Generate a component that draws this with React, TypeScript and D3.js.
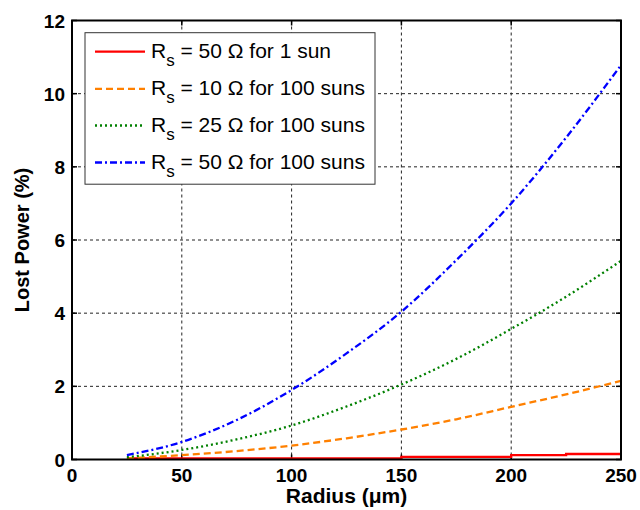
import React from "react";
import * as d3 from "d3";

const radius = [25, 50, 75, 100, 125, 150, 175, 200, 225, 250];
const rs50sun1 = [0.03, 0.03, 0.03, 0.03, 0.03, 0.07, 0.07, 0.12, 0.15, 0.15];
const rs10sun100 = [0.03, 0.12, 0.23, 0.38, 0.58, 0.82, 1.1, 1.44, 1.78, 2.15];
const rs25sun100 = [0.06, 0.26, 0.55, 0.93, 1.45, 2.05, 2.75, 3.57, 4.45, 5.43];
const rs50sun100 = [0.12, 0.48, 1.08, 1.9, 2.9, 4.04, 5.45, 7.0, 8.8, 10.78];

const xTicks = [0, 50, 100, 150, 200, 250];
const yTicks = [0, 2, 4, 6, 8, 10, 12];

const seriesNames = ["50 Ω for 1 sun", "10 Ω for 100 suns", "25 Ω for 100 suns", "50 Ω for 100 suns"];
const seriesValues = [rs50sun1, rs10sun100, rs25sun100, rs50sun100];
const seriesColors = ["#ff0000", "#ff8000", "#008000", "#0000ff"];
const seriesDash = ["none", "7,4", "2,3", "7,3,2,3"];

const W = 640;
const H = 510;
const L = 72;
const R = 621;
const T = 20.5;
const B = 459.5;

export default function App() {
  const x = d3.scaleLinear().domain([0, 250]).range([L, R]);
  const y = d3.scaleLinear().domain([0, 12]).range([B, T]);
  const font = "Arial, 'Liberation Sans', Helvetica, sans-serif";

  const lineFor = (vals: number[], i: number) => {
    const g = d3
      .line<number>()
      .x((_, k) => x(radius[k]))
      .y((v) => y(v))
      .curve(i === 0 ? d3.curveStepAfter : d3.curveMonotoneX);
    return g(vals) || "";
  };

  const legX = 85;
  const legY = 32.7;
  const legW = 290;
  const legH = 151.5;
  const rowY = [51.7, 88.8, 125.5, 162.5];

  return (
    <svg
      width={W}
      height={H}
      style={{ position: "absolute", left: 0, top: 0, background: "#fff" }}
      fontFamily={font}
    >
      <rect x={0} y={0} width={W} height={H} fill="#fff" />
      <defs>
        <clipPath id="plotclip">
          <rect x={L} y={T} width={R - L} height={B - T} />
        </clipPath>
      </defs>
      {/* grid */}
      {xTicks.slice(1, -1).map((t) => (
        <line key={"gx" + t} x1={x(t)} x2={x(t)} y1={T} y2={B} stroke="#222" strokeWidth={1} strokeDasharray="3,3" />
      ))}
      {yTicks.slice(1, -1).map((t) => (
        <line key={"gy" + t} x1={L} x2={R} y1={y(t)} y2={y(t)} stroke="#222" strokeWidth={1} strokeDasharray="3,3" />
      ))}
      {/* ticks inward */}
      {xTicks.map((t) => (
        <g key={"tx" + t}>
          <line x1={x(t)} x2={x(t)} y1={B} y2={B - 5} stroke="#000" strokeWidth={1.5} />
          <line x1={x(t)} x2={x(t)} y1={T} y2={T + 5} stroke="#000" strokeWidth={1.5} />
          <text x={x(t)} y={481.5} textAnchor="middle" fontSize={19} fontWeight="bold" fill="#000">
            {t}
          </text>
        </g>
      ))}
      {yTicks.map((t) => (
        <g key={"ty" + t}>
          <line x1={L} x2={L + 5} y1={y(t)} y2={y(t)} stroke="#000" strokeWidth={1.5} />
          <line x1={R} x2={R - 5} y1={y(t)} y2={y(t)} stroke="#000" strokeWidth={1.5} />
          <text x={65} y={y(t) + 7} textAnchor="end" fontSize={19} fontWeight="bold" fill="#000">
            {t}
          </text>
        </g>
      ))}
      {/* series */}
      <g clipPath="url(#plotclip)">
        {seriesValues.map((vals, i) => (
          <path
            key={"s" + i}
            d={lineFor(vals, i)}
            fill="none"
            stroke={seriesColors[i]}
            strokeWidth={2.3}
            strokeDasharray={seriesDash[i]}
          />
        ))}
      </g>
      {/* axes box */}
      <rect x={L} y={T} width={R - L} height={B - T} fill="none" stroke="#000" strokeWidth={2} />
      {/* legend */}
      <rect x={legX} y={legY} width={legW} height={legH} fill="#fff" stroke="#333" strokeWidth={1} />
      {seriesNames.map((name, i) => (
        <g key={"leg" + i}>
          <line
            x1={95}
            x2={145}
            y1={rowY[i]}
            y2={rowY[i]}
            stroke={seriesColors[i]}
            strokeWidth={2.3}
            strokeDasharray={seriesDash[i]}
          />
          <text x={151} y={rowY[i] + 6} fontSize={21} fill="#000">
            R
            <tspan fontSize={17} dy={8}>s</tspan>
            <tspan dy={-8}>{" = " + name}</tspan>
          </text>
        </g>
      ))}
      {/* axis labels */}
      <text x={(L + R) / 2} y={503} textAnchor="middle" fontSize={21} fontWeight="bold" fill="#000">
        Radius (μm)
      </text>
      <text
        transform={`translate(29, ${(T + B) / 2}) rotate(-90)`}
        textAnchor="middle"
        fontSize={20}
        fontWeight="bold"
        fill="#000"
      >
        Lost Power (%)
      </text>
    </svg>
  );
}
